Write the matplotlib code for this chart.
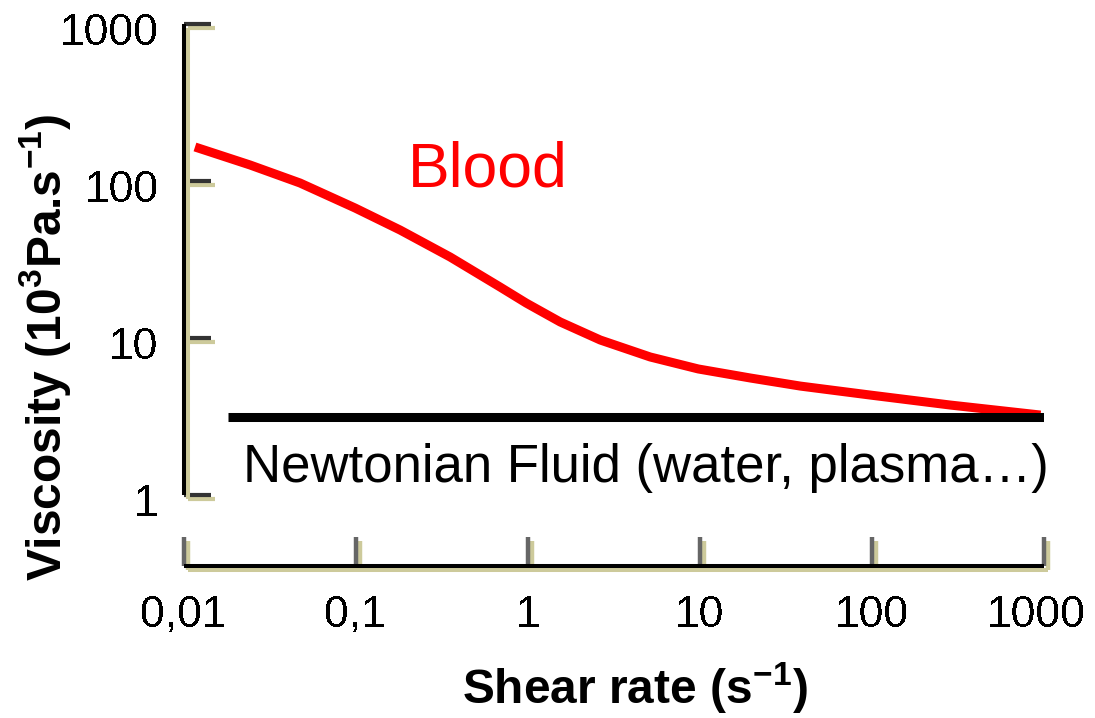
import matplotlib
matplotlib.use("Agg")
import matplotlib.pyplot as plt
import matplotlib.patheffects as pe
from matplotlib.transforms import ScaledTranslation
from matplotlib import font_manager

# ---- data ----
blood_shear = [0.01166, 0.02435, 0.04755, 0.0993, 0.1815, 0.3543, 0.692, 0.980,
               1.545, 2.64, 5.15, 9.80, 19.7, 38.4, 98, 286, 955]
blood_visc = [164.7, 126.5, 97.1, 67.3, 48.7, 32.8, 21.1, 16.7,
              12.65, 9.71, 7.57, 6.35, 5.56, 4.94, 4.33, 3.74, 3.23]
newton_shear = [0.0182, 1000]
newton_visc = [3.12, 3.12]
x_ticks = [0.01, 0.1, 1, 10, 100, 1000]
x_labels = ["0,01", "0,1", "1", "10", "100", "1000"]
y_ticks = [1, 10, 100, 1000]
y_labels = ["1", "10", "100", "1000"]

plt.rcParams['font.family'] = ['Liberation Sans', 'DejaVu Sans']
plt.rcParams['mathtext.fontset'] = 'custom'
plt.rcParams['mathtext.rm'] = 'Liberation Sans'
plt.rcParams['mathtext.bf'] = 'Liberation Sans:bold'

installed = {f.name for f in font_manager.fontManager.ttflist}
if 'Liberation Sans Narrow' in installed:
    tick_family, tick_size = 'Liberation Sans Narrow', 37
else:
    tick_family, tick_size = 'Liberation Sans', 32

W, H = 1095, 718
fig = plt.figure(figsize=(W / 100, H / 100), dpi=100)
ax = fig.add_axes([183.5 / W, 1 - 495 / H, (1044 - 183.5) / W, (495 - 24) / H])

ax.plot(blood_shear, blood_visc, color='#ff0000', lw=6.5, solid_capstyle='butt',
        solid_joinstyle='round', zorder=3)
ax.plot(newton_shear, newton_visc, color='black', lw=6.5, solid_capstyle='butt', zorder=4)

ax.set_xscale('log')
ax.set_yscale('log')
ax.set_xlim(0.01, 1000)
ax.set_ylim(1, 1000)
ax.minorticks_off()
ax.set_xticks(x_ticks, x_labels)
ax.set_yticks(y_ticks, y_labels)

for s in ['top', 'right']:
    ax.spines[s].set_visible(False)
ax.spines['bottom'].set_position(('outward', 51))

shadow = [pe.SimpleLineShadow(offset=(2.9, -2.9), shadow_color='#cdca9b', alpha=1.0), pe.Normal()]
for s in ['left', 'bottom']:
    ax.spines[s].set_linewidth(2.9)
    ax.spines[s].set_color('black')
    ax.spines[s].set_path_effects(shadow)
    ax.spines[s].set_capstyle('butt')

ax.tick_params(axis='x', direction='in', length=21, width=3.2, color='#666666', pad=21,
               labelsize=tick_size)
ax.tick_params(axis='y', direction='in', length=20, width=3.0, color='#333333', pad=18,
               labelsize=tick_size)

xt = ax.xaxis.get_major_ticks()
for i, t in enumerate(xt):
    t.tick1line.set_path_effects(shadow)
    if i in (0, len(xt) - 1):
        t.tick1line.set_color('black')
    t.label1.set_antialiased(False)
    t.label1.set_family(tick_family)
for t in ax.yaxis.get_major_ticks():
    t.tick1line.set_path_effects(shadow)
    t.label1.set_antialiased(False)
    t.label1.set_family(tick_family)
    t.label1.set_transform(t.label1.get_transform() + ScaledTranslation(0, -5 / 100, fig.dpi_scale_trans))
xt[-1].label1.set_transform(xt[-1].label1.get_transform() + ScaledTranslation(-8 / 100, 0, fig.dpi_scale_trans))

ax.text(0.2018, 91.6, "Blood", color='#ff0000', fontsize=45, ha='left', va='baseline')
ax.text(0.0222, 1.21, "Newtonian Fluid (water, plasma\u2026)", color='black', fontsize=38,
        ha='left', va='baseline', clip_on=False)

fig.text(45 / W, 1 - 347 / H, r"Viscosity (10$^{\mathbf{3}}$Pa.s$^{\mathbf{-1}}$)",
         rotation=90, fontsize=34.5, fontweight='bold', ha='center', va='center')
fig.text(635 / W, 1 - 688 / H, r"Shear rate (s$^{\mathbf{-1}}$)",
         fontsize=34.5, fontweight='bold', ha='center', va='center')

fig.savefig("out.png", dpi=100, facecolor='white')
